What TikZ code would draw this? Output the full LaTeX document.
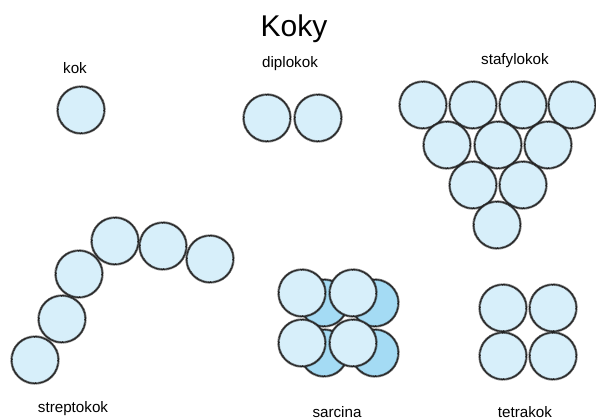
\documentclass[tikz,border=0pt]{standalone}
\usepackage{fontspec}
\setmainfont{Liberation Sans}
\definecolor{cellfill}{RGB}{215,239,250}
\definecolor{cellback}{RGB}{164,219,244}
\definecolor{cellrim}{RGB}{40,40,40}
\begin{document}
\begin{tikzpicture}[x=0.75pt,y=-0.75pt,
  cell/.style={circle,inner sep=0pt,minimum size=35.25pt,fill=cellfill,
    draw=cellrim,line width=1.8pt,dash pattern=on 0.3pt off 0.4pt,
    postaction={draw=cellrim!80!black,line width=0.6pt,solid}},
  backcell/.style={cell,fill=cellback},
  lbl/.style={font=\fontsize{11.4pt}{13pt}\selectfont,inner sep=0pt},
  title/.style={font=\fontsize{22.5pt}{26pt}\selectfont,inner sep=0pt}]
\useasboundingbox (0,0) rectangle (596,420);

% title
\node[title] (title) at (294,29) {Koky};

% kok
\node[lbl] (lkok) at (75,68) {kok};
\node[cell] (k1) at (81,110) {};

% diplokok
\node[lbl] (ldip) at (290,64) {diplokok};
\node[cell] (d1) at (267,118) {};
\node[cell] (d2) at (318,118) {};

% stafylokok: inverted triangle of cells
\node[lbl] (lsta) at (515,61) {stafylokok};
\foreach \cx [count=\i] in {423,473,523,572}
  \node[cell] (s1\i) at (\cx,105) {};
\foreach \cx [count=\i] in {447,498,548}
  \node[cell] (s2\i) at (\cx,145) {};
\foreach \cx [count=\i] in {473,523}
  \node[cell] (s3\i) at (\cx,185) {};
\node[cell] (s41) at (497,225) {};

% streptokok: curved chain
\node[lbl] (lstr) at (73,409) {streptokok};
\node[cell] (c1) at (35,360) {};
\node[cell] (c2) at (62,319) {};
\node[cell] (c3) at (79,274) {};
\node[cell] (c4) at (115,241) {};
\node[cell] (c5) at (163,246) {};
\node[cell] (c6) at (210,259) {};

% sarcina: back layer, then front layer
\node[lbl] (lsar) at (337,412) {sarcina};
\node[backcell] (b1) at (324,303) {};
\node[backcell] (b2) at (375,303) {};
\node[backcell] (b3) at (324,353) {};
\node[backcell] (b4) at (375,353) {};
\node[cell] (f1) at (302,293) {};
\node[cell] (f2) at (353,293) {};
\node[cell] (f3) at (302,343) {};
\node[cell] (f4) at (353,343) {};

% tetrakok
\node[lbl] (ltet) at (525,412) {tetrakok};
\node[cell] (t1) at (503,308) {};
\node[cell] (t2) at (553,308) {};
\node[cell] (t3) at (503,356) {};
\node[cell] (t4) at (553,356) {};
\end{tikzpicture}
\end{document}
